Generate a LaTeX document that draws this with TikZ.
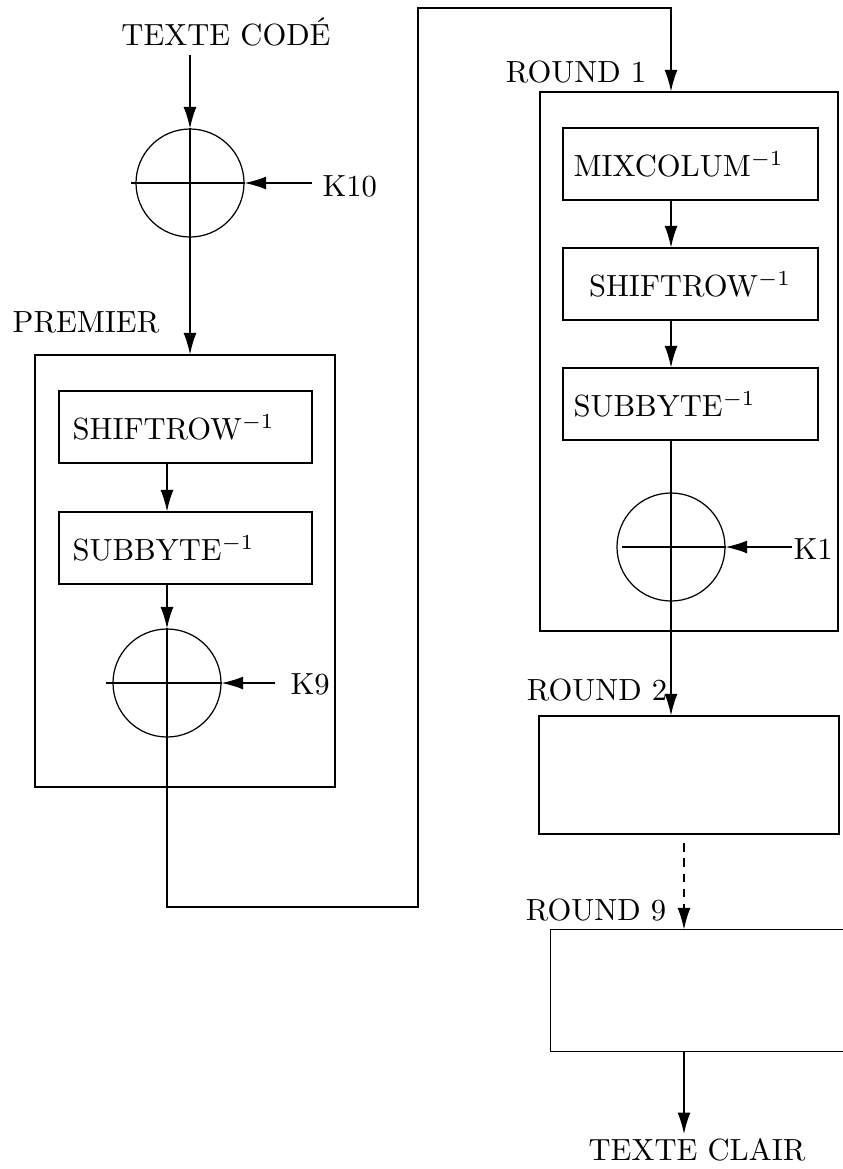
\documentclass[tikz,border=0pt]{standalone}
\usetikzlibrary{arrows.meta,fit}
\def\pxu{0.3268pt}
\begin{document}
\begin{tikzpicture}[x=\pxu,y=-\pxu,
  box/.style={draw, inner sep=0pt, line width=0.4pt},
  xorc/.style={draw, circle, minimum size=108*\pxu, inner sep=0pt},
  arr/.style={-{Latex[length=7pt,width=4.2pt]}},
  lbl/.style={inner sep=0pt},
  line width=0.4pt]
\useasboundingbox (0,0) rectangle (843,1169);

% ---- top input
\node[lbl] (tc) at (226,32) {TEXTE CODÉ};
\coordinate (a0) at (190,55);
\node[xorc] (c1) at (190,183) {};
\node[lbl, anchor=west] (k10) at (322,186) {K10};
\coordinate (k10a) at (312,183);
\draw[arr] (a0) -- (c1.north);
\draw ([xshift=-4*\pxu]c1.west) -- (c1.east);
\draw[arr] (k10a) -- (c1.east);

% ---- premier
\node[lbl] (premL) at (86,322) {PREMIER};
\node[box, fit={(35,355)(335,787)}] (prem) {};
\draw[arr] (c1.north) -- (c1.north |- prem.north);
\node[box, fit={(59,391)(312,463)}] (sr1) {};
\node[lbl, anchor=west] (sr1t) at (72,427) {SHIFTROW$^{-1}$};
\node[box, fit={(59,512)(312,584)}] (sb1) {};
\node[lbl, anchor=west] (sb1t) at (72,548) {SUBBYTE$^{-1}$};
\node[xorc] (c2) at (167,683) {};
\draw[arr] (sr1.south -| c2) -- (sb1.north -| c2);
\draw[arr] (sb1.south -| c2) -- (c2.north);
\draw ([xshift=-6*\pxu]c2.west) -- (c2.east);
\node[lbl, anchor=west] (k9) at (290,684) {K9};
\coordinate (k9a) at (275,683);
\draw[arr] (k9a) -- (c2.east);

% ---- round 1
\node[lbl] (r1L) at (576,72) {ROUND 1};
\node[box, fit={(540,92)(838,631)}] (r1) {};
\node[xorc] (c3) at (671,547) {};
\coordinate (b1) at (167,907);
\coordinate (b2) at (418,907);
\coordinate (b3) at (418,8);
\coordinate (b4) at (671,8);
\draw[arr] (c2.north) -- (b1) -- (b2) -- (b3) -- (b4) -- (b4 |- r1.north);
\node[box, fit={(563,128)(818,200)}] (mc) {};
\node[lbl, anchor=west] (mct) at (573,164) {MIXCOLUM$^{-1}$};
\node[box, fit={(563,248)(818,320)}] (sr2) {};
\node[lbl] (sr2t) at (690,284) {SHIFTROW$^{-1}$};
\node[box, fit={(563,368)(818,440)}] (sb2) {};
\node[lbl, anchor=west] (sb2t) at (573,404) {SUBBYTE$^{-1}$};
\draw[arr] (mc.south -| c3) -- (sr2.north -| c3);
\draw[arr] (sr2.south -| c3) -- (sb2.north -| c3);
\draw ([xshift=6*\pxu]c3.west) -- (c3.east);
\node[lbl, anchor=west] (k1) at (793,549) {K1};
\coordinate (k1a) at (792,547);
\draw[arr] (k1a) -- (c3.east);

% ---- round 2
\node[lbl] (r2L) at (597,690) {ROUND 2};
\node[box, fit={(539,716)(839,834)}] (r2) {};
\draw[arr] (sb2.south -| c3) -- (r2.north -| c3);

% ---- round 9
\node[lbl] (r9L) at (596,910) {ROUND 9};
\node[inner sep=0pt, fit={(551,930)(844,1051)}] (r9) {};
\draw (r9.north east) -- (r9.north west) -- (r9.south west) -- (r9.south east);
\coordinate (d0) at (684,843);
\draw[arr, dash pattern=on 2.8pt off 2.2pt] (d0) -- (d0 |- r9.north);

% ---- output
\node[lbl] (tcl) at (697,1150) {TEXTE CLAIR};
\coordinate (e1) at (684,1134);
\draw[arr] (e1 |- r9.south) -- (e1);
\end{tikzpicture}
\end{document}
